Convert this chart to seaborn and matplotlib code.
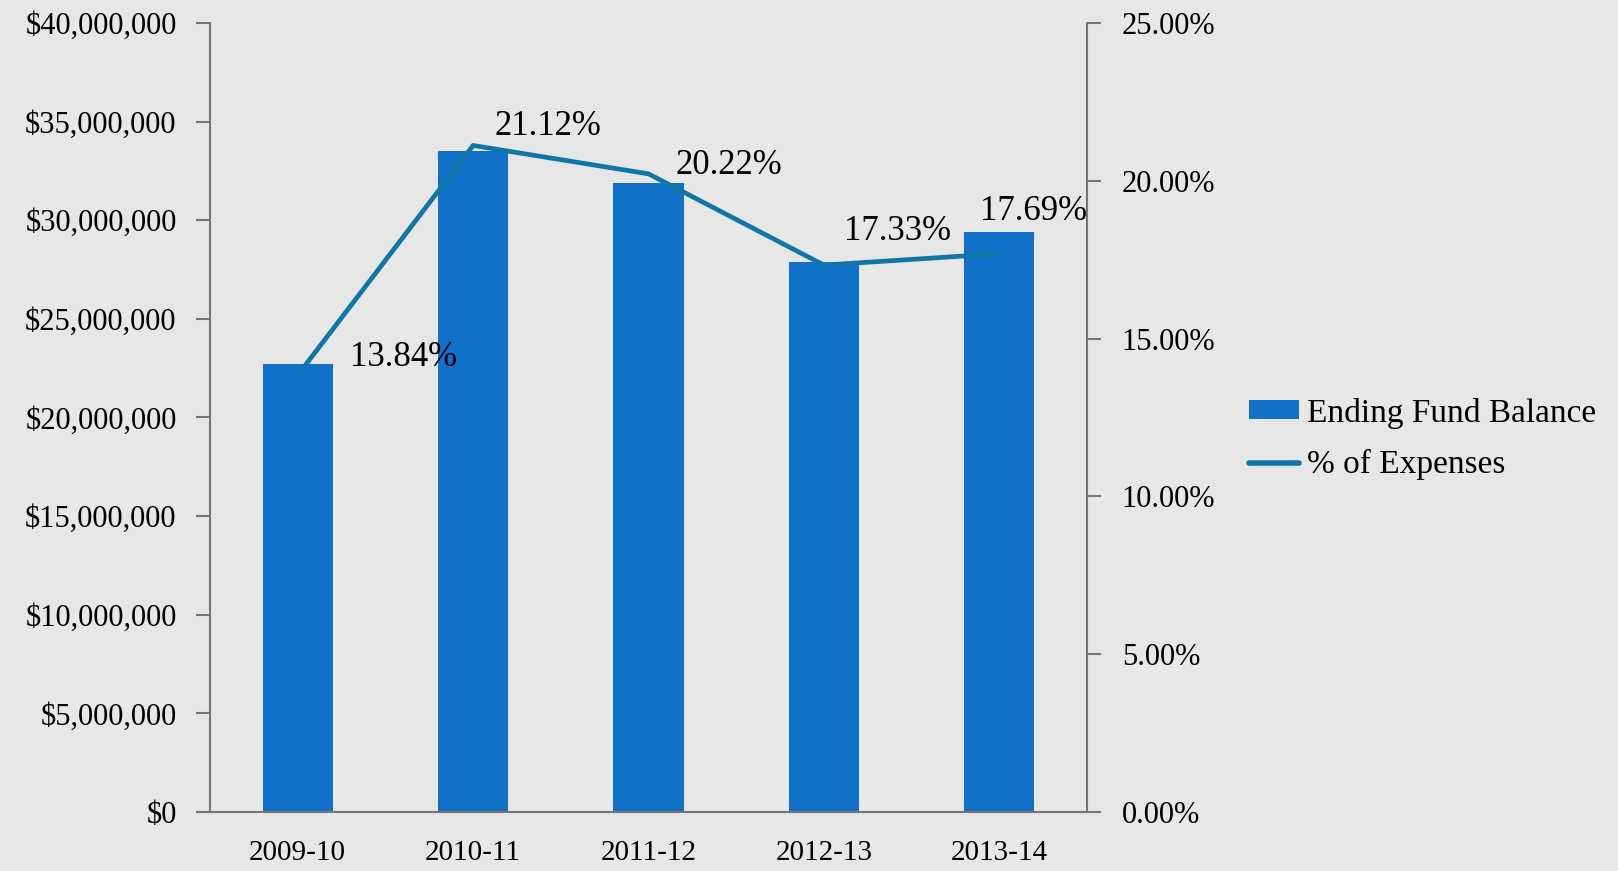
import matplotlib
matplotlib.use("Agg")
import matplotlib.pyplot as plt
from matplotlib.ticker import FuncFormatter, FixedLocator
import seaborn as sns
import pandas as pd

# Fiscal years and series
years = ["2009-10", "2010-11", "2011-12", "2012-13", "2013-14"]
fund_balance = [22_700_000, 33_500_000, 31_900_000, 27_900_000, 29_400_000]
pct_expenses = [13.84, 21.12, 20.22, 17.33, 17.69]

df = pd.DataFrame({"year": years, "balance": fund_balance, "pct": pct_expenses})

BAR_COLOR = "#1170c8"
LINE_COLOR = "#0f76a6"
AXIS_COLOR = "#767676"
BG = "#e7e7e7"

sns.set_style("white")
plt.rcParams["font.family"] = ["Liberation Serif", "DejaVu Serif"]
plt.rcParams["text.color"] = "black"

fig = plt.figure(figsize=(16.18, 8.71), dpi=100, facecolor=BG)
ax = fig.add_axes([210 / 1618, 1 - 812 / 871, (1087 - 210) / 1618, (812 - 23) / 871])
ax.set_facecolor("none")

sns.barplot(data=df, x="year", y="balance", color=BAR_COLOR, width=0.4,
            saturation=1, linewidth=0, ax=ax, label="Ending Fund Balance")

ax2 = ax.twinx()
ax2.set_facecolor("none")
sns.lineplot(data=df, x="year", y="pct", color=LINE_COLOR, linewidth=3.4,
             sort=False, ax=ax2, label="% of Expenses")

ax.set_xlim(-0.5, len(years) - 0.5)
ax.set_ylim(0, 40_000_000)
ax2.set_ylim(0, 25)

ax.set_yticks(range(0, 40_000_001, 5_000_000))
ax.yaxis.set_major_formatter(FuncFormatter(lambda v, p: f"${v:,.0f}"))
ax2.set_yticks([0, 5, 10, 15, 20, 25])
ax2.yaxis.set_major_formatter(FuncFormatter(lambda v, p: f"{v:.2f}%"))

# category boundaries carry the tick marks; labels sit at centers
ax.xaxis.set_minor_locator(FixedLocator([i - 0.5 for i in range(len(years) + 1)]))
ax.tick_params(axis="x", which="major", length=0, pad=20, labelsize=21, colors="black")
ax.tick_params(axis="x", which="minor", length=10, width=1.5, color=AXIS_COLOR, direction="out")
ax.tick_params(axis="y", length=10, width=1.5, color=AXIS_COLOR, direction="out",
               pad=14, labelsize=22, labelcolor="black")
ax2.tick_params(axis="y", length=10, width=1.5, color=AXIS_COLOR, direction="out",
                pad=15, labelsize=22, labelcolor="black")

for a in (ax, ax2):
    a.set_xlabel("")
    a.set_ylabel("")
    a.grid(False)
    a.spines["top"].set_visible(False)
ax.spines["right"].set_visible(False)
ax.spines["left"].set_color(AXIS_COLOR)
ax.spines["bottom"].set_color(AXIS_COLOR)
ax.spines["left"].set_linewidth(1.5)
ax.spines["bottom"].set_linewidth(1.5)
ax2.spines["left"].set_visible(False)
ax2.spines["bottom"].set_visible(False)
ax2.spines["right"].set_color(AXIS_COLOR)
ax2.spines["right"].set_linewidth(1.5)

# percentage labels next to each line point
label_offsets = [(106, 18), (75, 19), (80, 8), (74, 34), (34, 42)]
for i, (v, off) in enumerate(zip(pct_expenses, label_offsets)):
    ax2.annotate(f"{v:.2f}%", xy=(i, v), xytext=off, textcoords="offset pixels",
                 ha="center", va="center", fontsize=25, color="black")

# combined legend outside the plot area
for a in (ax, ax2):
    if a.get_legend() is not None:
        a.get_legend().remove()
h1, l1 = ax.get_legend_handles_labels()
h2, l2 = ax2.get_legend_handles_labels()
leg = fig.legend(h1 + h2, l1 + l2, loc="center left",
                 bbox_to_anchor=(1249 / 1618, 1 - 439 / 871),
                 frameon=False, fontsize=24, handlelength=1.5, handleheight=0.5,
                 handletextpad=0.25, labelspacing=0.62, borderpad=0, borderaxespad=0,
                 labelcolor="black")
for line in leg.get_lines():
    line.set_linewidth(4)

fig.savefig("out.png", dpi=100, facecolor=BG)
